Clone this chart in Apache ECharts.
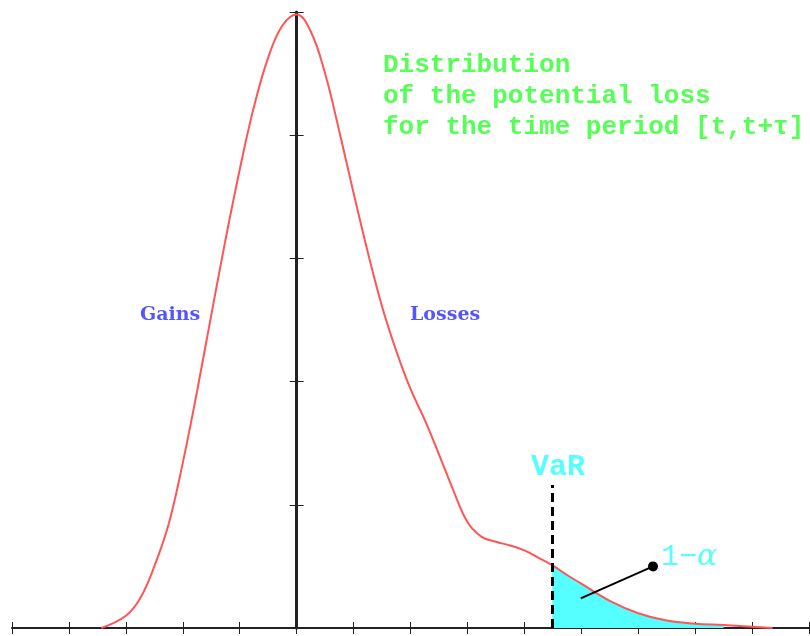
<!DOCTYPE html>
<html>
	<head>
		<meta charset="UTF-8">
		<title>VaR</title>
		<script src="https://cdn.jsdelivr.net/npm/echarts@6/dist/echarts.min.js"></script>
	</head>
	<body style="margin:0;background:#fff;">
		<div id="var_chart" style="width:810px;height:636px;"></div>
		<script>
			// loss axis values and density of the distribution
			var lossX = [-3.43, -3.0, -2.75, -2.5, -2.25, -2.0, -1.75, -1.5, -1.25, -1.0, -0.75, -0.5, -0.25, 0,
				0.25, 0.5, 0.75, 1.0, 1.25, 1.5, 1.75, 2.0, 2.25, 2.5, 2.75, 3.0, 3.25, 3.5, 3.75, 4.0, 4.25,
				4.49, 4.75, 5.0, 5.5, 6.0, 6.5, 7.0, 7.5, 8.36];
			var density = [0, 0.10, 0.24, 0.50, 0.84, 1.34, 1.92, 2.54, 3.15, 3.72, 4.23, 4.63, 4.89, 4.98,
				4.84, 4.50, 4.03, 3.53, 3.05, 2.61, 2.25, 1.94, 1.69, 1.41, 1.12, 0.86, 0.74, 0.70, 0.67, 0.63, 0.57,
				0.51, 0.43, 0.36, 0.22, 0.12, 0.06, 0.035, 0.024, 0];
			var varLevel = 4.49;      // VaR position
			var varTop = 1.16;        // height of dashed VaR line
			var fillEnd = 7.5;        // where the shaded tail stops
			var pointerFrom = [4.99, 0.24];
			var pointerTo = [6.26, 0.50];
			var xTicks = {min: -5, max: 9, step: 1};
			var yTicks = {min: 0, max: 5, step: 1};

			var curve = [], tail = [];
			for (var i = 0; i < lossX.length; i++) {
				curve.push([lossX[i], density[i]]);
				if (lossX[i] >= varLevel && lossX[i] <= fillEnd) tail.push([lossX[i], density[i]]);
			}

			var axisColor = '#222';
			function xAx(inside, showLine) {
				return {
					type: 'value', position: 'bottom', min: xTicks.min, max: xTicks.max, interval: xTicks.step,
					axisLine: {show: showLine, onZero: false, lineStyle: {color: axisColor, width: 2}},
					axisTick: {show: true, inside: inside, length: 6, lineStyle: {color: axisColor, width: 1}},
					axisLabel: {show: false}, splitLine: {show: false}
				};
			}
			function yAx(inside, showLine) {
				return {
					type: 'value', position: 'left', min: yTicks.min, max: yTicks.max, interval: yTicks.step, z: 3,
					axisLine: {show: showLine, onZero: true, lineStyle: {color: axisColor, width: 3}},
					axisTick: {show: true, inside: inside, length: 7, lineStyle: {color: axisColor, width: 1}},
					axisLabel: {show: false}, splitLine: {show: false}
				};
			}

			var option = {
				animation: false,
				grid: {left: 12, right: 1, top: 12, bottom: 8},
				xAxis: [xAx(false, true), xAx(true, false)],
				yAxis: [yAx(false, true), yAx(true, false)],
				series: [{
					type: 'line', data: tail, smooth: 0.4, symbol: 'none',
					lineStyle: {width: 0},
					areaStyle: {color: '#55ffff', opacity: 1}
				}, {
					type: 'line', data: curve, smooth: 0.4, symbol: 'none',
					lineStyle: {color: '#ff5555', width: 2},
					markLine: {
						silent: true, animation: false,
						label: {show: false},
						data: [
							[{coord: [varLevel, 0], symbol: 'none', lineStyle: {color: '#000', width: 3, type: [9, 5]}},
							 {coord: [varLevel, varTop], symbol: 'none'}],
							[{coord: pointerFrom, symbol: 'none', lineStyle: {color: '#000', width: 2, type: 'solid'}},
							 {coord: pointerTo, symbol: 'circle', symbolSize: 10}]
						]
					}
				}],
				graphic: [{
					type: 'text', left: 383, top: 50,
					style: {
						text: 'Distribution\nof the potential loss\nfor the time period [t,t+τ]',
						fill: '#55ff55', font: 'bold 26px "Liberation Mono"', lineHeight: 31
					}
				}, {
					type: 'text', left: 140, top: 306,
					style: {text: 'Gains', fill: '#5555ff', font: 'bold 19px "DejaVu Serif"'}
				}, {
					type: 'text', left: 410, top: 306,
					style: {text: 'Losses', fill: '#5555ff', font: 'bold 19px "DejaVu Serif"'}
				}, {
					type: 'text', left: 531, top: 452,
					style: {text: 'VaR', fill: '#55ffff', font: 'bold 30px "Liberation Mono"'}
				}, {
					type: 'text', left: 661, top: 542,
					style: {
						text: '{a|1−}{b|α}', fill: '#55ffff',
						rich: {
							a: {fill: '#55ffff', font: '30px "Liberation Mono"'},
							b: {fill: '#55ffff', font: 'italic 30px "DejaVu Serif"'}
						}
					}
				}]
			};

			var chart = echarts.init(document.getElementById('var_chart'));
			chart.setOption(option);
		</script>
	</body>
</html>
